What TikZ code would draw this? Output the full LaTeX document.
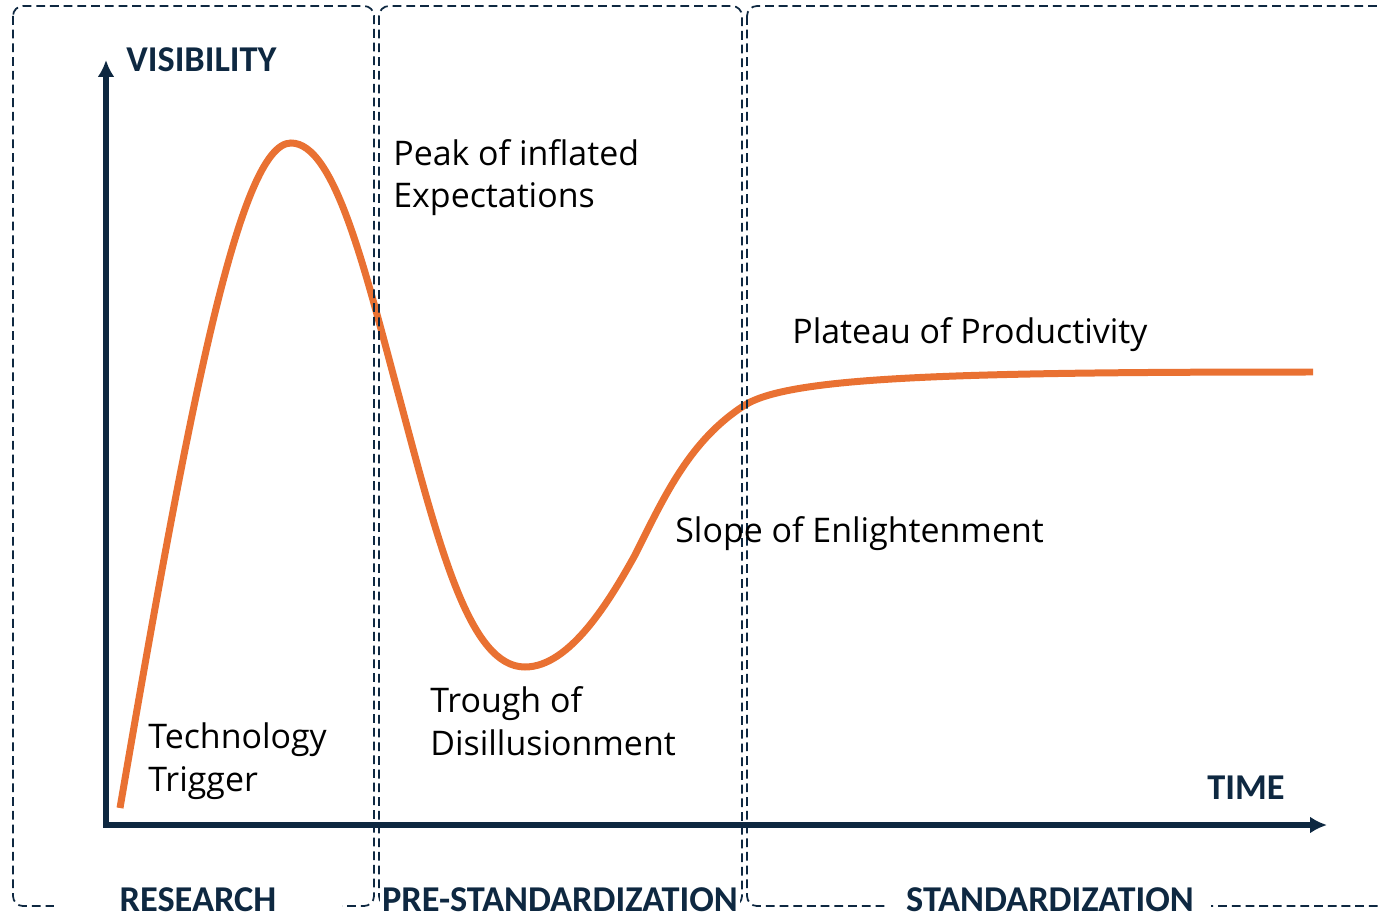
\documentclass[tikz,border=0pt]{standalone}
\usepackage{fontspec}
\setmainfont{Open Sans}
\newfontfamily\headfont{Carlito}
\usepackage{xcolor}
\usetikzlibrary{arrows.meta}
\definecolor{navy}{RGB}{14,40,65}
\definecolor{hypeorange}{RGB}{233,113,50}

\begin{document}
\begin{tikzpicture}[x=0.02cm,y=-0.02cm]
\tikzset{>={Latex[width=3.4mm,length=3.4mm]}}
\tikzstyle{phase} =[draw=navy, line width=1pt, dash pattern=on 5pt off 2.8pt, rounded corners=0.2cm]
\tikzstyle{axis} =[draw=navy, line width=0.12cm]
\tikzstyle{hype} =[draw=hypeorange, line width=0.14cm]
\tikzstyle{stage} =[inner sep=0pt, anchor=base west, align=left, font=\fontsize{19.3}{24.4}\selectfont]
\tikzstyle{heading} =[inner sep=0pt, anchor=base west, text=navy, font=\headfont\bfseries\fontsize{20.7}{24}\selectfont]
\tikzstyle{phaselabel} =[fill=white, text=navy, anchor=base, inner xsep=0.05cm, inner ysep=0.1cm, font=\headfont\bfseries\fontsize{20.7}{24}\selectfont]

\useasboundingbox (0,0) rectangle (1381,918);
\clip (0,0) rectangle (1381,918);

\coordinate (ytip) at (106,60);
\coordinate (xtip) at (1327,825);
\coordinate (start) at (120,808);
\coordinate (peak) at (291,143);
\coordinate (fall) at (400,400);
\coordinate (trough) at (525,667);
\coordinate (climb) at (635,555);
\coordinate (knee) at (745,405);
\coordinate (plateau) at (1313,372);

\draw[axis,<->] (ytip) |- (xtip);

\draw[hype] (start) .. controls (190,400) and (240,143) .. (peak)
  .. controls (335,143) and (365,270) .. (fall)
  .. controls (440,550) and (470,667) .. (trough)
  .. controls (570,667) and (610,600) .. (climb)
  .. controls (665,495) and (690,440) .. (knee)
  .. controls (790,377) and (950,372) .. (plateau);

\draw[phase] (13,6) rectangle (374,906);
\draw[phase] (379,6) rectangle (742,906);
\draw[phase] (747,6) rectangle (1400,906);

\node[heading](visibility) at (126,72) {VISIBILITY};
\node[heading](time) at (1207,799) {TIME};

\node[stage](peaklabel) at (393,208) {Peak of inflated\\Expectations};
\node[stage](plateaulabel) at (792,344) {Plateau of Productivity};
\node[stage](slopelabel) at (675,542) {Slope of Enlightenment};
\node[stage](troughlabel) at (430,755) {Trough of\\Disillusionment};
\node[stage](triggerlabel) at (148,791) {Technology\\Trigger};

\node[phaselabel, minimum width=5.76cm](research) at (198,911) {RESEARCH};
\node[phaselabel](prestd) at (560,911) {PRE-STANDARDIZATION};
\node[phaselabel, inner xsep=0.34cm](std) at (1050,911) {STANDARDIZATION};
\end{tikzpicture}
\end{document}
